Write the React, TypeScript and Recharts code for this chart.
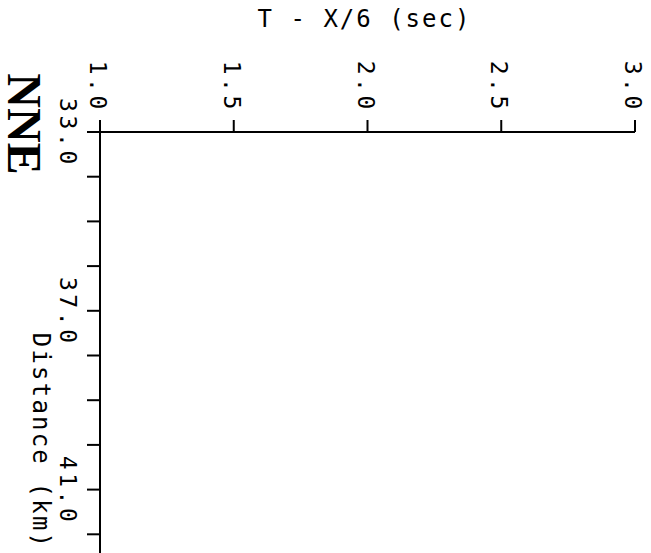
import {ScatterChart, Scatter, XAxis, YAxis, Label} from "recharts";

// travel-time section: reduced time vs distance, no picks plotted in this panel
const timeTicks = [1.0, 1.5, 2.0, 2.5, 3.0];
const timeDomain = [1, 3];
const distanceTicks = [33, 34, 35, 36, 37, 38, 39, 40, 41, 42];
const labeledDistances = [33, 37, 41];
const distanceDomain = [33, 43];
const picks: Array<{t: number; d: number}> = [];
const xTitle = "T - X/6 (sec)";
const yTitle = "Distance (km)";
const azimuth = "NNE";

const mono = "'DejaVu Sans Mono', monospace";

const TimeTick = ({x, y, payload}: any) => {
  const tx = x - 2;
  const ty = y - 5;
  return (
    <text x={tx} y={ty} transform={`rotate(90, ${tx}, ${ty})`} textAnchor='end' dominantBaseline='central'
      fontFamily={mono} fontSize={23} letterSpacing={3.6} fill='#000'>
      {Number(payload.value).toFixed(1)}
    </text>
  );
};

const DistanceTick = ({x, y, payload}: any) => {
  if (!labeledDistances.includes(payload.value)) return <g />;
  const tx = x - 17;
  const ty = y + 1;
  return (
    <text x={tx} y={ty} transform={`rotate(90, ${tx}, ${ty})`} textAnchor='middle' dominantBaseline='central'
      fontFamily={mono} fontSize={23} letterSpacing={3.6} fill='#000'>
      {Number(payload.value).toFixed(1)}
    </text>
  );
};

const App = () => {
  return (
    <div style={{position: "absolute", left: 0, top: 0, width: 651, height: 553, overflow: "hidden", background: "#fff"}}>
      <ScatterChart width={651} height={610} margin={{top: 131, left: 99, right: 16, bottom: 31}}>
        <XAxis type='number' dataKey='t' orientation='top' domain={timeDomain} ticks={timeTicks} interval={0}
          height={1} allowDataOverflow tickSize={12} tickMargin={2}
          axisLine={{stroke: "#000", strokeWidth: 2}} tickLine={{stroke: "#000", strokeWidth: 2}}
          tick={(p: any) => <TimeTick {...p} />}>
          <Label content={({viewBox}: any) => (
            <text x={viewBox.x + viewBox.width / 2 - 3} y={viewBox.y - 112} textAnchor='middle' dominantBaseline='central'
              fontFamily={mono} fontSize={24} letterSpacing={2} fill='#000'>{xTitle}</text>
          )} />
        </XAxis>
        <YAxis type='number' dataKey='d' reversed domain={distanceDomain} ticks={distanceTicks} interval={0}
          width={1} allowDataOverflow tickSize={13} tickMargin={2}
          axisLine={{stroke: "#000", strokeWidth: 2}} tickLine={{stroke: "#000", strokeWidth: 2}}
          tick={(p: any) => <DistanceTick {...p} />}>
          <Label content={({viewBox}: any) => {
            const lx = viewBox.x - 58;
            const ly = viewBox.y + 309;
            return (
              <text x={lx} y={ly} transform={`rotate(90, ${lx}, ${ly})`} textAnchor='middle' dominantBaseline='central'
                fontFamily={mono} fontSize={24} letterSpacing={2.2} fill='#000'>{yTitle}</text>
            );
          }} />
          <Label content={({viewBox}: any) => (
            <text x={viewBox.x - 75} y={viewBox.y - 8} textAnchor='middle' style={{writingMode: "vertical-rl"}}
              fontFamily="'Liberation Serif', serif" fontWeight='bold' fontSize={48} fill='#000'>{azimuth}</text>
          )} />
        </YAxis>
        <Scatter data={picks} fill='#000' isAnimationActive={false} />
      </ScatterChart>
    </div>
  );
};

export default App;
